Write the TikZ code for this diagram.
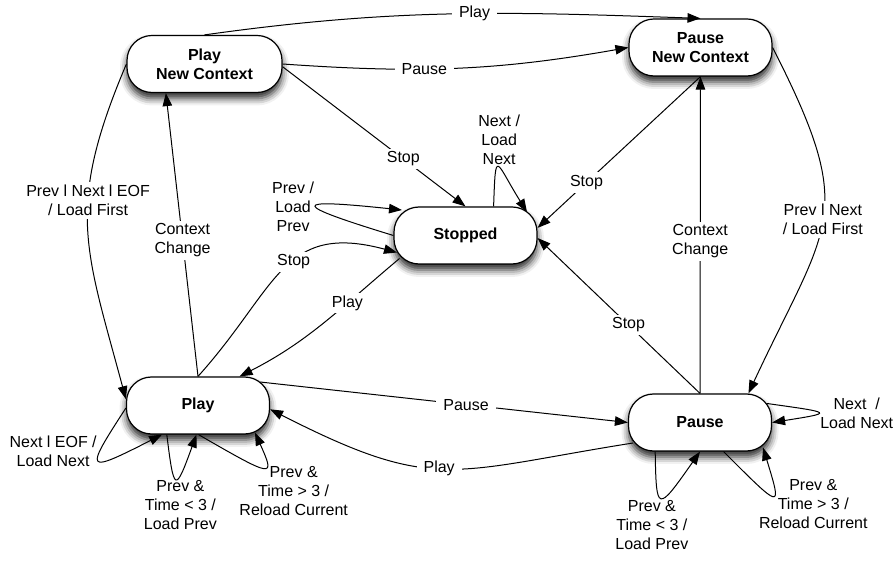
\documentclass[tikz,border=0pt]{standalone}
\usepackage{fontspec}
\setmainfont{Liberation Sans}
\usetikzlibrary{arrows.meta,shadows.blur}

\tikzset{
  state/.style={draw, line width=1.2pt, fill=white, rounded corners=25pt,
    minimum width=143pt, minimum height=57pt, align=center,
    font=\bfseries\fontsize{16}{19}\selectfont,
    blur shadow={shadow xshift=0pt, shadow yshift=-6pt, shadow blur radius=7pt, shadow opacity=85}},
  trans/.style={line width=1pt, -{Triangle[length=13pt,width=9.5pt]}},
  lbl/.style={fill=white, inner xsep=7pt, inner ysep=3pt, align=center,
    font=\fontsize{16}{19}\selectfont},
  looplbl/.style={inner sep=2pt, align=center, font=\fontsize{16}{19}\selectfont},
}

\begin{document}
\begin{tikzpicture}[x=1pt, y=1pt]
  \useasboundingbox (0,0) rectangle (896,562);

  % states
  \node[state, minimum width=155pt] (playnew) at (204.5,498) {Play\\New Context};
  \node[state] (pausenew) at (700.5,514.5) {Pause\\New Context};
  \node[state] (stopped) at (465.5,326.5) {Stopped};
  \node[state] (play) at (198,156.5) {Play};
  \node[state] (pause) at (700,139.5) {Pause};

  % between the new context states
  \draw[trans] (playnew.north) to[out=8, in=178] node[lbl, pos=0.55] (l1) {Play} (pausenew.north);
  \draw[trans] (playnew.east) to[out=-4, in=190] node[lbl, pos=0.4] (l2) {Pause} (pausenew.west);
  \draw[trans] (playnew.west) to[out=247, in=105, looseness=1.2] node[lbl, pos=0.4] (l3) {Prev l Next l EOF\\/ Load First} (play.175);
  \draw[trans] (pausenew.east) to[out=-63, in=65, looseness=1.4] node[lbl, pos=0.5] (l4) {Prev l Next\\/ Load First} (pause.31);
  \draw[trans] (play.north) -- node[lbl, pos=0.48] (l5) {Context\\Change} (playnew.217);
  \draw[trans] (pause.north) -- node[lbl, pos=0.48] (l6) {Context\\Change} (pausenew.south);

  % into and out of stopped
  \draw[trans] (playnew.-2) -- node[lbl, pos=0.66] (l7) {Stop} (stopped.north);
  \draw[trans] (pausenew.south) -- node[lbl, pos=0.7] (l8) {Stop} (stopped.6);
  \draw[trans] (pause.north) -- node[lbl, pos=0.44] (l9) {Stop} (stopped.-2);
  \draw[trans] (play.north) to[out=48, in=165, looseness=1.3] node[lbl, pos=0.56] (l10) {Stop} ([shift={(-68.5,-17)}]stopped.center);
  \draw[trans] ([shift={(-66,-23)}]stopped.center) to[out=220, in=27] node[lbl, pos=0.33] (l11) {Play} (play.35);
  \draw[trans] (stopped.46) .. controls +(88:60) and +(122:60) .. ([shift={(61.5,23.5)}]stopped.center)
    node[looplbl, pos=0.5, above] (l12) {Next /\\Load\\Next};
  \draw[trans] (stopped.west) .. controls +(163:110) and +(174:112) .. ([shift={(-63.5,25.5)}]stopped.center)
    node[looplbl, pos=0.5, left] (l13) {Prev /\\Load\\Prev};

  % between play and pause
  \draw[trans] ([shift={(62,23.5)}]play.center) -- node[lbl, pos=0.56] (l14) {Pause} (pause.west);
  \draw[trans] ([shift={(-67,-20.5)}]pause.center) to[out=189, in=-27, looseness=1.3] node[lbl, pos=0.52] (l15) {Play} (play.-3);

  % play loops
  \draw[trans] (play.182) .. controls +(237:77) and +(207:87) .. (play.219)
    node[looplbl, pos=0.5, left, yshift=9pt] (l16) {Next l EOF /\\Load Next};
  \draw[trans] (play.223.5) .. controls +(277:59) and +(250:62) .. (play.267)
    node[looplbl, pos=0.5, below, xshift=4pt] (l17) {Prev \&\\Time < 3 /\\Load Prev};
  \draw[trans] (play.271) .. controls +(-30:88) and +(-66:50) .. ([shift={(57,-27)}]play.center)
    node[looplbl, pos=0.5, right, xshift=-26pt, yshift=-24pt] (l18) {Prev \&\\Time > 3 /\\Reload Current};

  % pause loops
  \draw[trans] ([shift={(67,19)}]pause.center) .. controls +(-8:67) and +(9:63) .. (pause.east)
    node[looplbl, pos=0.5, right] (l19) {Next~ /\\Load Next};
  \draw[trans] (pause.213) .. controls +(271:61) and +(235:75) .. (pause.south)
    node[looplbl, pos=0.5, below, xshift=-10pt] (l20) {Prev \&\\Time < 3 /\\Load Prev};
  \draw[trans] (pause.309) .. controls +(-45:83) and +(-73:66) .. ([shift={(63,-25)}]pause.center)
    node[looplbl, pos=0.5, right, xshift=-16pt, yshift=-9pt] (l21) {Prev \&\\Time > 3 /\\Reload Current};
\end{tikzpicture}
\end{document}
